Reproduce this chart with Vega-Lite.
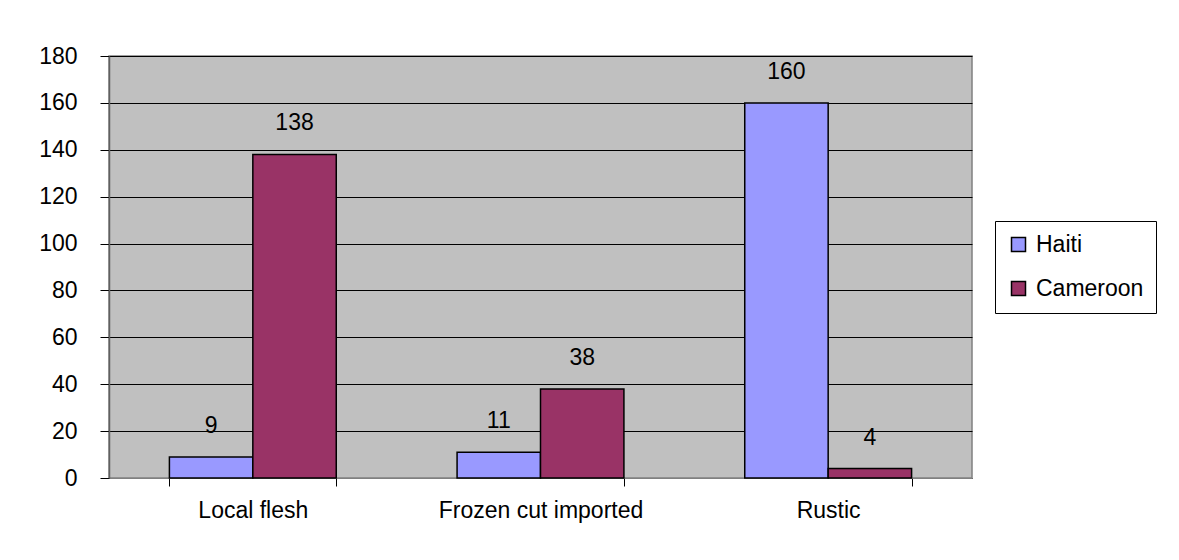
{
  "$schema": "https://vega.github.io/schema/vega-lite/v6.json",
  "autosize": "none",
  "width": 863,
  "height": 422,
  "padding": {"left": 109, "top": 56, "right": 207, "bottom": 82},
  "background": "white",
  "data": {
    "values": [
      {"category": "Local flesh", "country": "Haiti", "value": 9},
      {"category": "Local flesh", "country": "Cameroon", "value": 138},
      {"category": "Frozen cut imported", "country": "Haiti", "value": 11},
      {"category": "Frozen cut imported", "country": "Cameroon", "value": 38},
      {"category": "Rustic", "country": "Haiti", "value": 160},
      {"category": "Rustic", "country": "Cameroon", "value": 4}
    ]
  },
  "encoding": {
    "x": {
      "field": "category",
      "type": "nominal",
      "sort": ["Local flesh", "Frozen cut imported", "Rustic"],
      "scale": {"paddingInner": 0.42, "paddingOuter": 0.21},
      "axis": {
        "title": null,
        "labelAngle": 0,
        "labelLimit": 400,
        "tickBand": "extent",
        "tickSize": 8,
        "tickColor": "#000000",
        "domainColor": "#808080",
        "labelPadding": 13,
        "labelFont": "Liberation Sans",
        "labelFontSize": 23,
        "labelColor": "#000000",
        "grid": false
      }
    },
    "xOffset": {"field": "country", "type": "nominal", "sort": ["Haiti", "Cameroon"]},
    "y": {
      "field": "value",
      "type": "quantitative",
      "scale": {"domain": [0, 180], "nice": false},
      "axis": {
        "title": null,
        "values": [0, 20, 40, 60, 80, 100, 120, 140, 160, 180],
        "tickSize": 9,
        "tickColor": "#000000",
        "domainColor": "#606060",
        "domainWidth": 1.5,
        "labelPadding": 23,
        "labelFont": "Liberation Sans",
        "labelFontSize": 23,
        "labelColor": "#000000",
        "grid": true,
        "gridColor": "#000000",
        "gridWidth": 1,
        "gridOpacity": 1
      }
    }
  },
  "layer": [
    {
      "mark": {"type": "bar", "stroke": "#000000", "strokeWidth": 1.5},
      "encoding": {
        "color": {
          "field": "country",
          "type": "nominal",
          "sort": ["Haiti", "Cameroon"],
          "scale": {"domain": ["Haiti", "Cameroon"], "range": ["#9999FF", "#993366"]},
          "legend": {
            "title": null,
            "orient": "none",
            "legendX": 886,
            "legendY": 165,
            "strokeColor": "#000000",
            "fillColor": "#ffffff",
            "padding": 12,
            "symbolType": "square",
            "symbolSize": 196,
            "symbolStrokeColor": "#000000",
            "symbolStrokeWidth": 1.5,
            "symbolOpacity": 1,
            "labelFont": "Liberation Sans",
            "labelFontSize": 23,
            "labelColor": "#000000",
            "labelOffset": 6,
            "rowPadding": 20
          }
        }
      }
    },
    {
      "mark": {
        "type": "text",
        "baseline": "middle",
        "align": "center",
        "dy": -31,
        "font": "Liberation Sans",
        "fontSize": 23,
        "color": "#000000"
      },
      "encoding": {
        "text": {"field": "value", "type": "quantitative"}
      }
    }
  ],
  "config": {
    "view": {"fill": "#C0C0C0", "stroke": "#808080", "strokeWidth": 1.5}
  }
}
